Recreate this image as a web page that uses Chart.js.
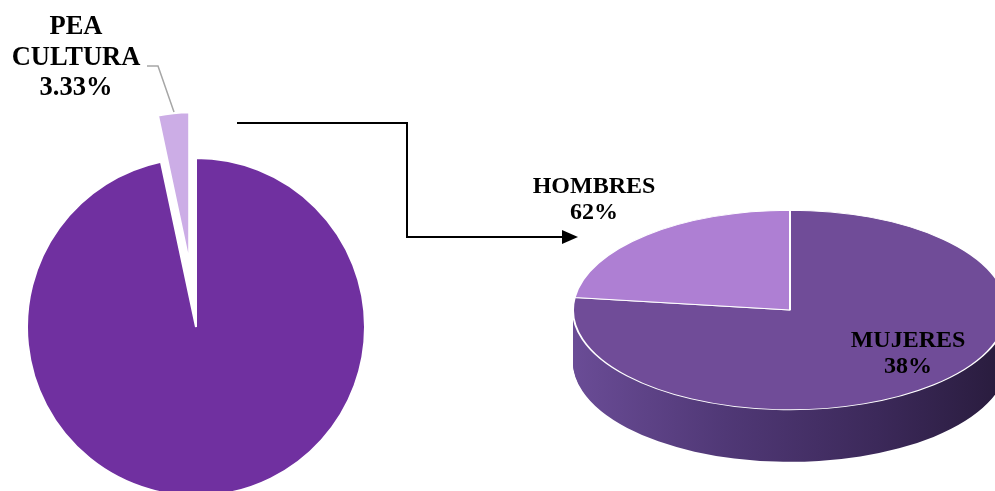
<!DOCTYPE html>
<html>
<head>
<meta charset="utf-8">
<script src="https://cdn.jsdelivr.net/npm/chart.js@4"></script>
<style>
    body { margin: 0; background: #ffffff; }
    .wrap { position: absolute; left: 0; top: 0; width: 995px; height: 491px; }
</style>
</head>
<body>
<div class="wrap"><canvas id="pieLeft"></canvas></div>
<div class="wrap"><canvas id="pieRight"></canvas></div>
<script>
// left pie: share of PEA in culture
const peaLabels = ['OTROS', 'PEA CULTURA'];
const peaValues = [96.67, 3.33];

// right pie: split by sex (slice sizes as drawn, percentages as printed)
const sexLabels = ['MUJERES', 'HOMBRES'];
const sexValues = [77, 23];
const sexPercentTexts = ['38%', '62%'];

const labelFont = 'bold 24px "Liberation Serif", "Times New Roman", serif';
const peaFont = 'bold 26.5px "Liberation Serif", "Times New Roman", serif';

// pull the small slice out of the pie and make it a bit smaller
const explodePea = {
    id: 'explodePea',
    afterDatasetUpdate(chart) {
        const arc = chart.getDatasetMeta(0).data[1];
        const mid = (arc.startAngle + arc.endAngle) / 2;
        arc.x += Math.cos(mid) * 65;
        arc.y += Math.sin(mid) * 65;
        arc.outerRadius = 150;
    },
    afterDraw(chart) {
        const ctx = chart.ctx;
        ctx.save();
        // leader line to the label
        ctx.strokeStyle = '#a6a6a6';
        ctx.lineWidth = 1.5;
        ctx.beginPath();
        ctx.moveTo(147, 66);
        ctx.lineTo(158, 66);
        ctx.lineTo(174, 112);
        ctx.stroke();

        ctx.fillStyle = '#000';
        ctx.font = peaFont;
        ctx.textAlign = 'center';
        const lines = peaLabels[1].split(' ').concat(peaValues[1].toFixed(2) + '%');
        lines.forEach((t, i) => ctx.fillText(t, 76, 34 + i * 30.5));

        // connector arrow to the second pie
        ctx.strokeStyle = '#000';
        ctx.lineWidth = 2;
        ctx.beginPath();
        ctx.moveTo(237, 123);
        ctx.lineTo(407, 123);
        ctx.lineTo(407, 237);
        ctx.lineTo(565, 237);
        ctx.stroke();
        ctx.beginPath();
        ctx.moveTo(578, 237);
        ctx.lineTo(562, 230);
        ctx.lineTo(562, 244);
        ctx.closePath();
        ctx.fill();
        ctx.restore();
    }
};

// fake 3d: squash the pie and stack darker copies below it
const squash = 0.46;
const depth = 52;
const pie3d = {
    id: 'pie3d',
    beforeDatasetsDraw(chart) {
        const ctx = chart.ctx;
        const arcs = chart.getDatasetMeta(0).data;
        const cx = arcs[0].x, cy = arcs[0].y, r = arcs[0].outerRadius;
        ctx.save();
        ctx.translate(cx, cy);
        ctx.scale(1, squash);
        ctx.translate(-cx, -cy);

        const grad = ctx.createLinearGradient(cx - r, 0, cx + r, 0);
        grad.addColorStop(0, 'rgb(106,76,150)');
        grad.addColorStop(0.35, 'rgb(80,56,118)');
        grad.addColorStop(0.7, 'rgb(60,41,90)');
        grad.addColorStop(1, 'rgb(40,27,60)');

        for (let d = depth; d > 0; d--) {
            ctx.save();
            ctx.translate(0, d / squash);
            arcs.forEach(a => {
                const o = a.options;
                a.options = Object.assign({}, o, { backgroundColor: grad, borderWidth: 0 });
                a.draw(ctx);
                a.options = o;
            });
            ctx.restore();
        }
    },
    afterDatasetsDraw(chart) {
        chart.ctx.restore();
    },
    afterDraw(chart) {
        const ctx = chart.ctx;
        ctx.save();
        ctx.fillStyle = '#000';
        ctx.font = labelFont;
        ctx.textAlign = 'center';
        ctx.fillText(sexLabels[1], 594, 193);
        ctx.fillText(sexPercentTexts[1], 594, 219);
        ctx.fillText(sexLabels[0], 908, 347);
        ctx.fillText(sexPercentTexts[0], 908, 373);
        ctx.restore();
    }
};

const baseOptions = {
    responsive: true,
    maintainAspectRatio: false,
    animation: false,
    events: [],
    plugins: {
        legend: { display: false },
        tooltip: { enabled: false }
    }
};

new Chart(document.getElementById('pieLeft').getContext('2d'), {
    type: 'pie',
    data: {
        labels: peaLabels,
        datasets: [{
            data: peaValues,
            backgroundColor: ['#7030A0', '#CCADE6'],
            borderColor: '#ffffff',
            borderWidth: 2,
            radius: 169,
            clip: false
        }]
    },
    options: Object.assign({}, baseOptions, {
        layout: { padding: { left: 0, right: 603, top: 163, bottom: 0 } }
    }),
    plugins: [explodePea]
});

new Chart(document.getElementById('pieRight').getContext('2d'), {
    type: 'pie',
    data: {
        labels: sexLabels,
        datasets: [{
            data: sexValues,
            backgroundColor: ['#704C98', '#AE7FD3'],
            borderColor: '#ffffff',
            borderWidth: 2,
            radius: 217,
            clip: false
        }]
    },
    options: Object.assign({}, baseOptions, {
        layout: { padding: { left: 585, right: 0, top: 129, bottom: 0 } }
    }),
    plugins: [pie3d]
});
</script>
</body>
</html>
